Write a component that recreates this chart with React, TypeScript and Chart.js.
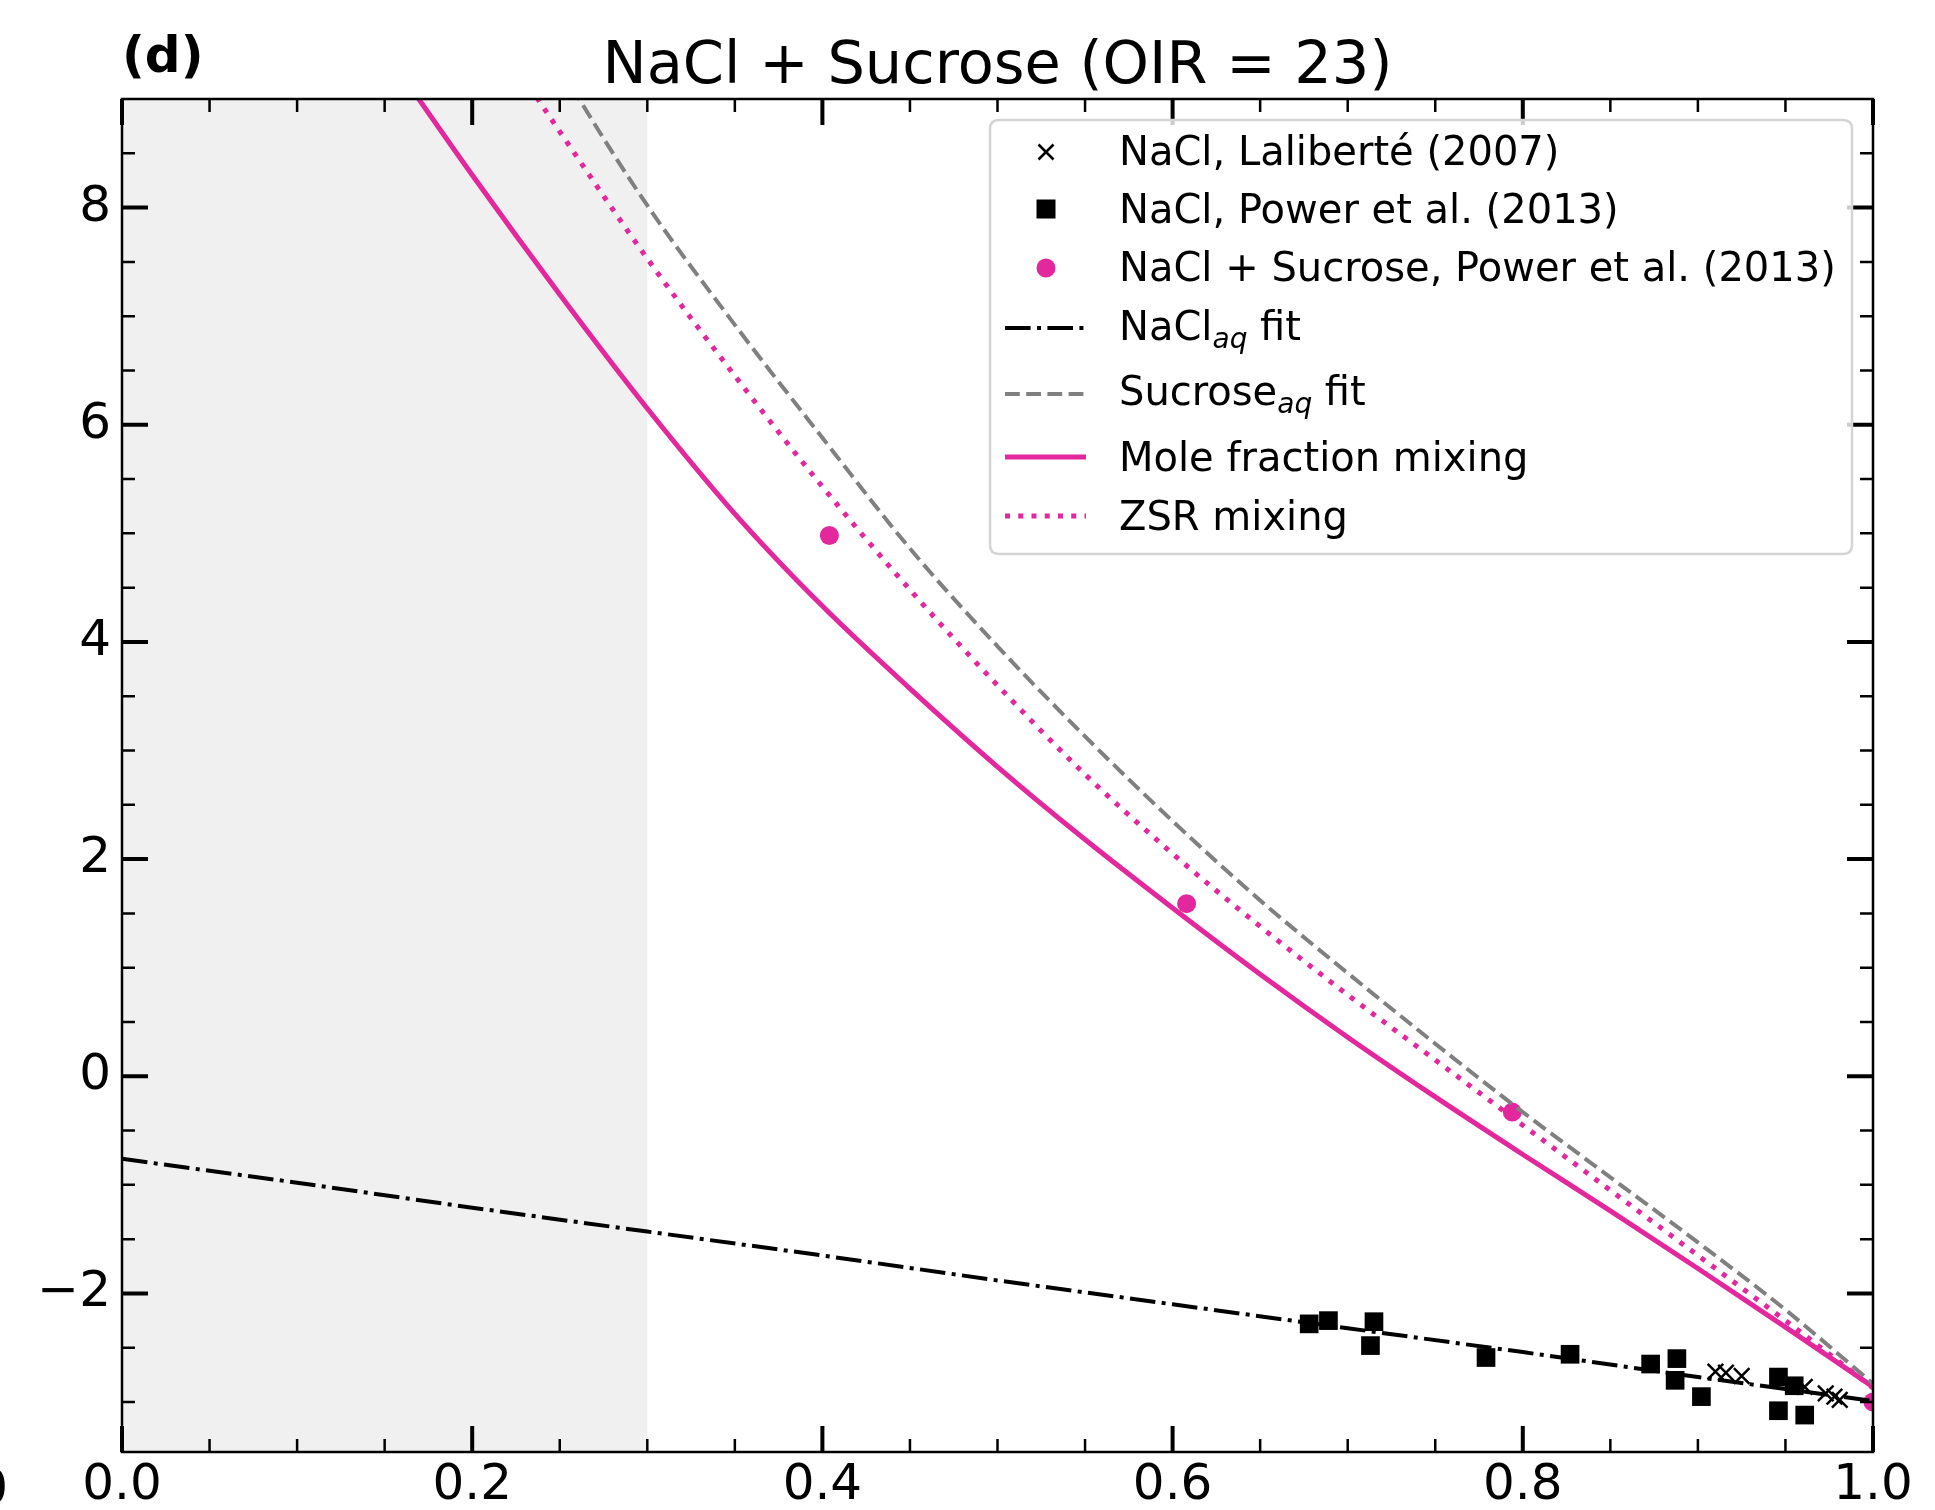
import React, { useEffect, useRef } from 'react';
import { Chart, registerables } from 'chart.js';

Chart.register(...registerables);

// ---------------- data ----------------
const titleText = 'NaCl + Sucrose (OIR = 23)';
const panelLabel = '(d)';

const xTickValues = [0, 0.2, 0.4, 0.6, 0.8, 1.0];
const xTickLabels = ['0.0', '0.2', '0.4', '0.6', '0.8', '1.0'];
const yTickValues = [-2, 0, 2, 4, 6, 8];
const yTickLabels = ['\u22122', '0', '2', '4', '6', '8'];

const shadeRange = [0, 0.3];

// NaCl(aq) fit (dash-dot)
const naclFitX = [0, 0.1, 0.2, 0.3, 0.4, 0.5, 0.6, 0.7, 0.8, 0.9, 1.0];
const naclFitY = [-0.76, -0.98, -1.21, -1.43, -1.65, -1.88, -2.10, -2.32, -2.54, -2.77, -2.99];

// Sucrose(aq) fit (grey dashed)
const sucroseFitX = [0.245, 0.26, 0.30, 0.35, 0.40, 0.45, 0.50, 0.55, 0.60, 0.65, 0.70, 0.75, 0.80, 0.85, 0.90, 0.95, 1.00];
const sucroseFitY = [9.45, 9.03, 8.02, 6.92, 5.88, 4.86, 3.96, 3.13, 2.35, 1.62, 0.95, 0.30, -0.33, -0.93, -1.53, -2.15, -2.83];

// Mole fraction mixing (solid magenta)
const moleFracX = [0.15, 0.2, 0.25, 0.3, 0.35, 0.4, 0.45, 0.5, 0.55, 0.6, 0.65, 0.7, 0.75, 0.8, 0.85, 0.9, 0.95, 1.0];
const moleFracY = [9.45, 8.30, 7.20, 6.15, 5.18, 4.33, 3.57, 2.85, 2.18, 1.55, 0.94, 0.36, -0.19, -0.72, -1.24, -1.77, -2.31, -2.86];

// ZSR mixing (dotted magenta)
const zsrX = [0.22, 0.25, 0.30, 0.35, 0.40, 0.45, 0.50, 0.55, 0.60, 0.65, 0.70, 0.75, 0.80, 0.85, 0.90, 0.95, 1.00];
const zsrY = [9.42, 8.70, 7.53, 6.45, 5.43, 4.48, 3.60, 2.78, 2.05, 1.38, 0.75, 0.15, -0.45, -1.05, -1.65, -2.25, -2.87];

// NaCl, Laliberté (2007)
const lalibX = [0.910, 0.916, 0.925, 0.961, 0.973, 0.978, 0.981];
const lalibY = [-2.72, -2.73, -2.76, -2.86, -2.92, -2.95, -2.98];

// NaCl, Power et al. (2013)
const powerNaclX = [0.678, 0.689, 0.715, 0.713, 0.779, 0.827, 0.873, 0.888, 0.887, 0.902, 0.946, 0.955, 0.946, 0.961];
const powerNaclY = [-2.28, -2.25, -2.26, -2.48, -2.59, -2.56, -2.65, -2.60, -2.80, -2.95, -2.77, -2.85, -3.08, -3.12];

// NaCl + Sucrose, Power et al. (2013)
const powerMixX = [0.404, 0.608, 0.794, 1.0];
const powerMixY = [4.98, 1.59, -0.33, -3.0];

// ---------------- styles ----------------
const FONT = '"DejaVu Sans", "Liberation Sans", sans-serif';
const PINK = '#e3279c';
const GREY = '#808080';
const SHADE = '#f0f0f0';
const DASHDOT = [25.6, 6.4, 4, 6.4];
const DASHED = [14.8, 6.4];
const DOTTED = [5, 8.25];

const pts = (xs: number[], ys: number[]) => xs.map((x, i) => ({ x, y: ys[i] }));

const shadePlugin = {
  id: 'shade',
  beforeDatasetsDraw(chart: any) {
    const { ctx, chartArea: a, scales } = chart;
    const x0 = scales.x.getPixelForValue(shadeRange[0]);
    const x1 = scales.x.getPixelForValue(shadeRange[1]);
    ctx.save();
    ctx.fillStyle = SHADE;
    ctx.fillRect(x0, a.top, x1 - x0, a.bottom - a.top);
    ctx.restore();
  },
};

const axesPlugin = {
  id: 'axesDecor',
  afterDatasetsDraw(chart: any) {
    const { ctx, chartArea: a, scales } = chart;
    const xs = scales.x;
    const ys = scales.y;
    ctx.save();
    ctx.strokeStyle = '#000';
    ctx.lineCap = 'butt';
    const xTick = (v: number, len: number, w: number) => {
      const p = xs.getPixelForValue(v);
      ctx.lineWidth = w;
      ctx.beginPath();
      ctx.moveTo(p, a.bottom);
      ctx.lineTo(p, a.bottom - len);
      ctx.moveTo(p, a.top);
      ctx.lineTo(p, a.top + len);
      ctx.stroke();
    };
    const yTick = (v: number, len: number, w: number) => {
      const p = ys.getPixelForValue(v);
      ctx.lineWidth = w;
      ctx.beginPath();
      ctx.moveTo(a.left, p);
      ctx.lineTo(a.left + len, p);
      ctx.moveTo(a.right, p);
      ctx.lineTo(a.right - len, p);
      ctx.stroke();
    };
    for (let k = 0; k <= 20; k++) {
      if (k % 4 !== 0) xTick(k * 0.05, 13, 2.5);
    }
    xTickValues.forEach((v) => xTick(v, 26, 4));
    for (let k = -6; k <= 17; k++) {
      const v = k * 0.5;
      if (v < ys.min || v > ys.max) continue;
      if (!yTickValues.includes(v)) yTick(v, 13, 2.5);
    }
    yTickValues.forEach((v) => yTick(v, 26, 4));
    ctx.lineWidth = 2.5;
    ctx.strokeRect(a.left, a.top, a.right - a.left, a.bottom - a.top);
    ctx.restore();
  },
};

const legendRows = [
  { kind: 'cross', parts: [['NaCl, Lalibert\u00e9 (2007)', 'n']], base: 165, hy: 152 },
  { kind: 'square', parts: [['NaCl, Power et al. (2013)', 'n']], base: 223, hy: 209 },
  { kind: 'circle', parts: [['NaCl + Sucrose, Power et al. (2013)', 'n']], base: 281, hy: 268 },
  { kind: 'dashdot', parts: [['NaCl', 'n'], ['aq', 's'], [' fit', 'n']], base: 340, hy: 328 },
  { kind: 'dashed', parts: [['Sucrose', 'n'], ['aq', 's'], [' fit', 'n']], base: 405, hy: 394 },
  { kind: 'solid', parts: [['Mole fraction mixing', 'n']], base: 471, hy: 457 },
  { kind: 'dotted', parts: [['ZSR mixing', 'n']], base: 530, hy: 516 },
];

const textPlugin = {
  id: 'texts',
  afterDraw(chart: any) {
    const { ctx, chartArea: a } = chart;
    ctx.save();
    // title
    ctx.fillStyle = '#000';
    ctx.textBaseline = 'alphabetic';
    ctx.textAlign = 'center';
    ctx.font = `59px ${FONT}`;
    ctx.fillText(titleText, (a.left + a.right) / 2, 83);
    // panel label
    ctx.textAlign = 'left';
    ctx.font = `bold 50px ${FONT}`;
    ctx.fillText(panelLabel, 122, 72);
    // clipped label fragment from neighbouring panel
    ctx.textAlign = 'right';
    ctx.font = `50px ${FONT}`;
    ctx.fillText('1.0', 8, 1504);

    // legend box
    const L = { l: 990, t: 120, r: 1852, b: 554, rad: 9 };
    ctx.beginPath();
    ctx.moveTo(L.l + L.rad, L.t);
    ctx.lineTo(L.r - L.rad, L.t);
    ctx.quadraticCurveTo(L.r, L.t, L.r, L.t + L.rad);
    ctx.lineTo(L.r, L.b - L.rad);
    ctx.quadraticCurveTo(L.r, L.b, L.r - L.rad, L.b);
    ctx.lineTo(L.l + L.rad, L.b);
    ctx.quadraticCurveTo(L.l, L.b, L.l, L.b - L.rad);
    ctx.lineTo(L.l, L.t + L.rad);
    ctx.quadraticCurveTo(L.l, L.t, L.l + L.rad, L.t);
    ctx.closePath();
    ctx.fillStyle = 'rgba(255,255,255,0.8)';
    ctx.fill();
    ctx.strokeStyle = '#d4d4d4';
    ctx.lineWidth = 2.5;
    ctx.stroke();

    const hx = 1046;
    const hl = 1005;
    const hr = 1086;
    const tx = 1119;
    legendRows.forEach((row) => {
      ctx.save();
      const y = row.hy;
      if (row.kind === 'cross') {
        const d = 7.5;
        ctx.strokeStyle = '#000';
        ctx.lineWidth = 2.5;
        ctx.beginPath();
        ctx.moveTo(hx - d, y - d);
        ctx.lineTo(hx + d, y + d);
        ctx.moveTo(hx + d, y - d);
        ctx.lineTo(hx - d, y + d);
        ctx.stroke();
      } else if (row.kind === 'square') {
        ctx.fillStyle = '#000';
        ctx.fillRect(hx - 9.5, y - 9.5, 19, 19);
      } else if (row.kind === 'circle') {
        ctx.fillStyle = PINK;
        ctx.beginPath();
        ctx.arc(hx, y, 9.5, 0, Math.PI * 2);
        ctx.fill();
      } else {
        let color = '#000';
        let w = 4;
        let dash: number[] = [];
        if (row.kind === 'dashdot') { dash = DASHDOT; }
        if (row.kind === 'dashed') { color = GREY; dash = DASHED; }
        if (row.kind === 'solid') { color = PINK; w = 5; }
        if (row.kind === 'dotted') { color = PINK; w = 5; dash = DOTTED; }
        ctx.strokeStyle = color;
        ctx.lineWidth = w;
        ctx.setLineDash(dash);
        ctx.beginPath();
        ctx.moveTo(hl, y);
        ctx.lineTo(hr, y);
        ctx.stroke();
      }
      ctx.restore();
      // text
      let x = tx;
      ctx.fillStyle = '#000';
      ctx.textAlign = 'left';
      ctx.textBaseline = 'alphabetic';
      row.parts.forEach(([s, k]) => {
        if (k === 's') {
          ctx.font = `italic 28px ${FONT}`;
          ctx.fillText(s, x, row.base + 8);
        } else {
          ctx.font = `40px ${FONT}`;
          ctx.fillText(s, x, row.base);
        }
        x += ctx.measureText(s).width;
      });
    });
    ctx.restore();
  },
};

export default function App() {
  const ref = useRef<HTMLCanvasElement>(null);

  useEffect(() => {
    const canvas = ref.current;
    if (!canvas) return;
    const lineBase = {
      showLine: true,
      pointRadius: 0,
      pointHoverRadius: 0,
      fill: false,
      clip: 0,
      cubicInterpolationMode: 'monotone',
      order: 1,
    };
    const chart = new Chart(canvas, {
      type: 'scatter',
      data: {
        datasets: [
          {
            label: 'NaCl, Laliberté (2007)',
            data: pts(lalibX, lalibY),
            pointStyle: 'crossRot',
            pointRadius: 11,
            pointBorderWidth: 2.5,
            pointBorderColor: '#000',
            pointBackgroundColor: '#000',
            clip: 0,
            order: 4,
          },
          {
            label: 'NaCl, Power et al. (2013)',
            data: pts(powerNaclX, powerNaclY),
            pointStyle: 'rect',
            pointRadius: 13.2,
            pointBorderWidth: 0,
            pointBackgroundColor: '#000',
            pointBorderColor: '#000',
            clip: 0,
            order: 5,
          },
          {
            label: 'NaCl + Sucrose, Power et al. (2013)',
            data: pts(powerMixX, powerMixY),
            pointStyle: 'circle',
            pointRadius: 9.5,
            pointBorderWidth: 0,
            pointBackgroundColor: PINK,
            pointBorderColor: PINK,
            clip: 0,
            order: 5,
          },
          {
            ...lineBase,
            label: 'NaCl aq fit',
            data: pts(naclFitX, naclFitY),
            borderColor: '#000',
            borderWidth: 4,
            borderDash: DASHDOT,
            cubicInterpolationMode: 'default',
          },
          {
            ...lineBase,
            label: 'Sucrose aq fit',
            data: pts(sucroseFitX, sucroseFitY),
            borderColor: GREY,
            borderWidth: 4,
            borderDash: DASHED,
          },
          {
            ...lineBase,
            label: 'Mole fraction mixing',
            data: pts(moleFracX, moleFracY),
            borderColor: PINK,
            borderWidth: 5,
          },
          {
            ...lineBase,
            label: 'ZSR mixing',
            data: pts(zsrX, zsrY),
            borderColor: PINK,
            borderWidth: 5,
            borderDash: DOTTED,
          },
        ],
      } as any,
      options: {
        responsive: false,
        maintainAspectRatio: false,
        animation: false,
        devicePixelRatio: 1,
        events: [],
        layout: { padding: { top: 99, right: 62, bottom: 0, left: 0 } },
        plugins: {
          legend: { display: false },
          title: { display: false },
          tooltip: { enabled: false },
        },
        scales: {
          x: {
            type: 'linear',
            min: 0,
            max: 1,
            grid: { display: false, drawTicks: false },
            border: { display: false },
            ticks: {
              color: '#000',
              font: { family: FONT, size: 50 },
              padding: 4,
              maxRotation: 0,
              autoSkip: false,
              callback: (v: any) => {
                const i = xTickValues.findIndex((t) => Math.abs(t - Number(v)) < 1e-9);
                return i >= 0 ? xTickLabels[i] : '';
              },
            },
            afterBuildTicks: (s: any) => {
              s.ticks = xTickValues.map((v) => ({ value: v }));
            },
            afterFit: (s: any) => {
              s.height = 58;
            },
          },
          y: {
            type: 'linear',
            min: -3.46,
            max: 9,
            grid: { display: false, drawTicks: false },
            border: { display: false },
            ticks: {
              color: '#000',
              font: { family: FONT, size: 50 },
              padding: 11,
              autoSkip: false,
              callback: (v: any) => {
                const i = yTickValues.findIndex((t) => Math.abs(t - Number(v)) < 1e-9);
                return i >= 0 ? yTickLabels[i] : '';
              },
            },
            afterBuildTicks: (s: any) => {
              s.ticks = yTickValues.map((v) => ({ value: v }));
            },
            afterFit: (s: any) => {
              s.width = 122;
            },
          },
        },
      } as any,
      plugins: [shadePlugin, axesPlugin, textPlugin],
    });
    return () => chart.destroy();
  }, []);

  return (
    <canvas
      ref={ref}
      width={1935}
      height={1510}
      style={{ position: 'absolute', left: 0, top: 0, width: 1935, height: 1510, display: 'block' }}
    />
  );
}
